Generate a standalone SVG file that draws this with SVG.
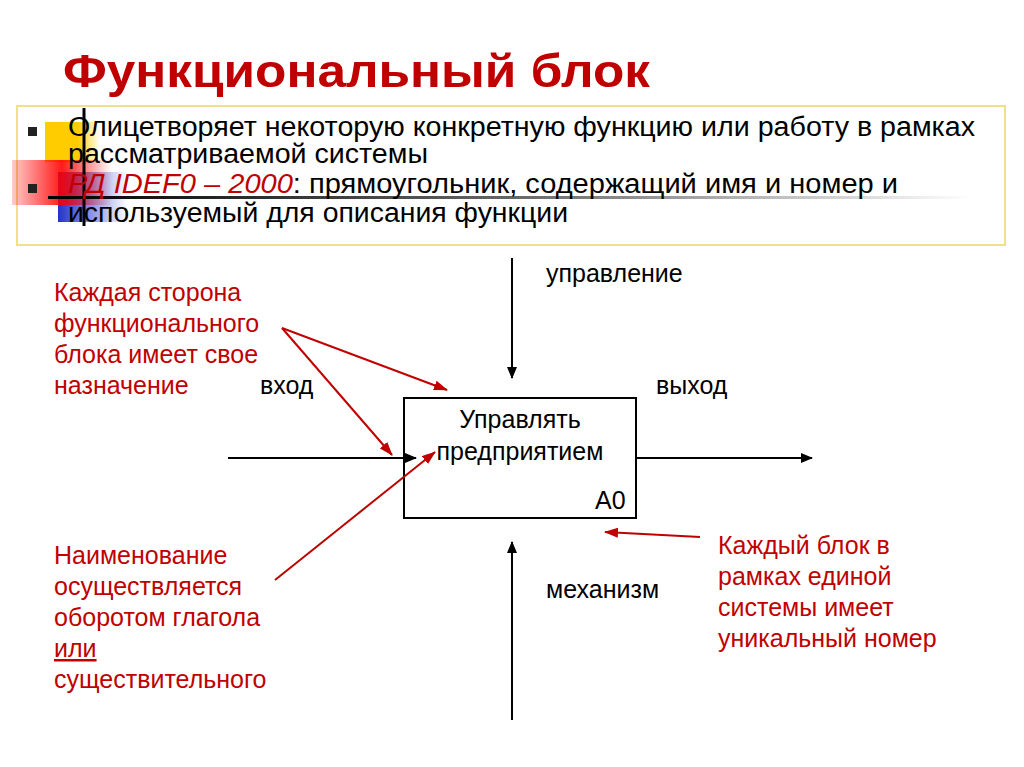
<svg xmlns="http://www.w3.org/2000/svg" width="1024" height="767" viewBox="0 0 1024 767">
<defs>
<style>
text{font-family:"Liberation Sans",Arial,sans-serif}
.b{font-size:27px;fill:#000}
.r{font-size:25px;fill:#c00000}
.k{font-size:25px;fill:#000}
.blk{stroke:#000;stroke-width:2;fill:none}
.red{stroke:#c00000;stroke-width:2;fill:none}
</style>
<marker id="ab" markerWidth="12" markerHeight="10" refX="11" refY="5" orient="auto" markerUnits="userSpaceOnUse"><path d="M0,0L12,5L0,10z" fill="#000"/></marker>
<marker id="ar" markerWidth="14" markerHeight="10" refX="13" refY="5" orient="auto" markerUnits="userSpaceOnUse"><path d="M0,0L14,5L0,10z" fill="#c00000"/></marker>
<linearGradient id="gr" x1="0" x2="1"><stop offset="0" stop-color="#f00" stop-opacity="0.2"/><stop offset="0.5" stop-color="#f00" stop-opacity="0.9"/><stop offset="1" stop-color="#f00" stop-opacity="0"/></linearGradient>
<linearGradient id="gb" x1="0" x2="1"><stop offset="0" stop-color="#2233cc"/><stop offset="1" stop-color="#2233cc" stop-opacity="0"/></linearGradient>
<linearGradient id="gy" x1="0" x2="1"><stop offset="0.6" stop-color="#ffcc00"/><stop offset="1" stop-color="#ffcc00" stop-opacity="0"/></linearGradient>
<linearGradient id="gl" x1="0" x2="1"><stop offset="0" stop-color="#000"/><stop offset="0.5" stop-color="#666"/><stop offset="1" stop-color="#fff"/></linearGradient>
</defs>
<rect width="1024" height="767" fill="#fff"/>
<rect x="17" y="106" width="988" height="139" fill="none" stroke="#f0e08a" stroke-width="2"/>
<g id="decor">
<rect x="45" y="122" width="55" height="40" fill="url(#gy)"/>
<rect x="58" y="172" width="70" height="50" fill="url(#gb)"/>
<rect x="12" y="160" width="100" height="45" fill="url(#gr)"/>
<rect x="48" y="196" width="925" height="3" fill="url(#gl)"/>
<line x1="84" y1="108" x2="84" y2="226" stroke="#000" stroke-width="3"/>
</g>
<text x="63" y="87" font-size="46" font-weight="bold" fill="#c00000" textLength="587" lengthAdjust="spacingAndGlyphs">Функциональный блок</text>
<rect x="28" y="127" width="9" height="9" fill="#222"/>
<rect x="28" y="184" width="9" height="9" fill="#222"/>
<text class="b" x="68" y="136" textLength="907" lengthAdjust="spacingAndGlyphs">Олицетворяет некоторую конкретную функцию или работу в рамках</text>
<text class="b" x="68" y="163" textLength="360" lengthAdjust="spacingAndGlyphs">рассматриваемой системы</text>
<text class="b" x="68" y="193" textLength="830" lengthAdjust="spacingAndGlyphs"><tspan fill="#c00000" font-style="italic">РД IDEF0 – 2000</tspan>: прямоугольник, содержащий имя и номер и</text>
<text class="b" x="68" y="222" textLength="500" lengthAdjust="spacingAndGlyphs">используемый для описания функции</text>
<g id="block">
<rect x="404" y="398" width="232" height="120" fill="#fff" stroke="#000" stroke-width="2"/>
<text class="k" x="520" y="428" text-anchor="middle">Управлять</text>
<text class="k" x="520" y="460" text-anchor="middle">предприятием</text>
<text class="k" x="595" y="509">А0</text>
</g>
<g id="labels">
<text class="k" x="546" y="282">управление</text>
<text class="k" x="260" y="394">вход</text>
<text class="k" x="656" y="394">выход</text>
<text class="k" x="546" y="598">механизм</text>
<text class="r" x="54" y="301">Каждая сторона</text>
<text class="r" x="54" y="332">функционального</text>
<text class="r" x="54" y="363">блока имеет свое</text>
<text class="r" x="54" y="394">назначение</text>
<text class="r" x="54" y="564">Наименование</text>
<text class="r" x="54" y="595">осуществляется</text>
<text class="r" x="54" y="626">оборотом глагола</text>
<text class="r" x="54" y="657" text-decoration="underline">или</text>
<text class="r" x="54" y="688">существительного</text>
<text class="r" x="718" y="554">Каждый блок в</text>
<text class="r" x="718" y="585">рамках единой</text>
<text class="r" x="718" y="616">системы имеет</text>
<text class="r" x="718" y="647">уникальный номер</text>
</g>
<g id="connectors">
<line class="blk" x1="512" y1="258" x2="512" y2="378" marker-end="url(#ab)"/>
<line class="blk" x1="228" y1="458" x2="416" y2="458" marker-end="url(#ab)"/>
<line class="blk" x1="636" y1="458" x2="812" y2="458" marker-end="url(#ab)"/>
<line class="blk" x1="512" y1="720" x2="512" y2="542" marker-end="url(#ab)"/>
<line class="red" x1="282" y1="328" x2="447" y2="390" marker-end="url(#ar)"/>
<line class="red" x1="282" y1="328" x2="392" y2="455" marker-end="url(#ar)"/>
<line class="red" x1="275" y1="580" x2="435" y2="452" marker-end="url(#ar)"/>
<line class="red" x1="700" y1="537" x2="605" y2="532" marker-end="url(#ar)"/>
</g>
</svg>
